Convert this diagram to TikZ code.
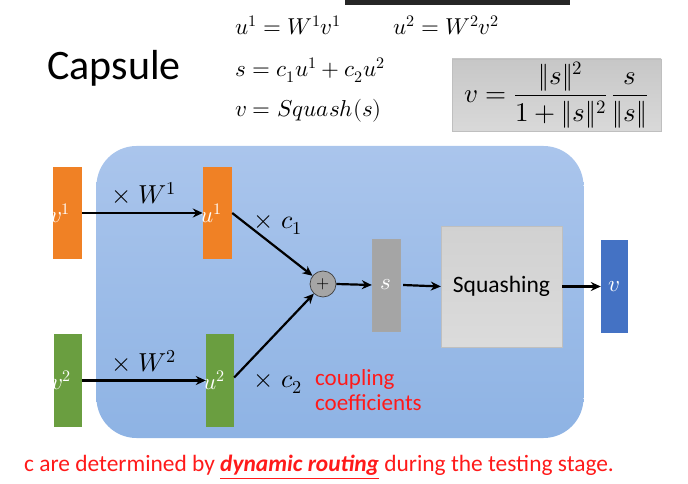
\documentclass[tikz,border=0pt]{standalone}
\usepackage{amsmath}
\usepackage{fontspec}
\usepackage{unicode-math}
\setmainfont{Carlito}
\setmathfont{Latin Modern Math}
\usetikzlibrary{arrows.meta}
\definecolor{orangebox}{HTML}{F08125}
\definecolor{greenbox}{HTML}{6A9E40}
\definecolor{greybox}{HTML}{A5A5A5}
\definecolor{bluebox}{HTML}{4472C4}
\definecolor{capblueTop}{HTML}{AAC5EC}
\definecolor{capblueBot}{HTML}{8EB3E4}
\definecolor{redtext}{HTML}{FF1A1A}
\tikzset{
  x=1pt, y=-1pt,
  vecbox/.style={draw=none, minimum width=#1, inner sep=0pt},
  veclbl/.style={label={[anchor=west, xshift=-3pt, text=white, inner sep=0pt, font=\fontsize{23}{25}\selectfont]west:#1}},
  conn/.style={line width=2.2pt, -{Stealth[length=10pt,width=9pt]}},
  mathlbl/.style={font=\fontsize{26}{28}\selectfont, inner sep=0pt},
  eqlbl/.style={font=\fontsize{23}{26}\selectfont, inner sep=0pt, anchor=base west},
}
\begin{document}
\begin{tikzpicture}
\useasboundingbox (0,0) rectangle (688,484);
% screen artefact bar at top
\fill[black!85] (345,0) rectangle (570,5);
% title and equations
\node[anchor=base west, inner sep=0pt, font=\fontsize{42}{44}\selectfont] (title) at (47,80) {Capsule};
\node[eqlbl] (eq1) at (235,35) {$u^1 = W^1 v^1$};
\node[eqlbl] (eq2) at (393,35) {$u^2 = W^2 v^2$};
\node[eqlbl] (eq3) at (235,77) {$s = c_1 u^1 + c_2 u^2$};
\node[eqlbl] (eq4) at (235,117) {$v = \symit{Squash}(s)$};
\node[draw=black!25, top color=black!22, bottom color=black!15, minimum width=209pt, minimum height=72pt, inner sep=0pt, font=\fontsize{27}{29}\selectfont] (formula) at (556.5,95)
  {$v = \dfrac{\|s\|^2}{1+\|s\|^2}\,\dfrac{s}{\|s\|}$};
% capsule background
\node[rounded corners=40pt, top color=capblueTop, bottom color=capblueBot, draw=none, minimum width=487pt, minimum height=292pt, inner sep=0pt] (capsule) at (340,292) {};
% boxes
\node[vecbox=29pt, minimum height=92pt, fill=orangebox, veclbl={$v^1$}] (v1) at (67.5,213) {};
\node[vecbox=29pt, minimum height=92pt, fill=orangebox, veclbl={$u^1$}] (u1) at (217.5,213) {};
\node[vecbox=28pt, minimum height=93pt, fill=greenbox, veclbl={$v^2$}] (v2) at (68,380.5) {};
\node[vecbox=28pt, minimum height=93pt, fill=greenbox, veclbl={$u^2$}] (u2) at (220,380.5) {};
\node[circle, draw=black!75, line width=0.7pt, fill=greybox, minimum size=26pt, inner sep=0pt, font=\fontsize{17}{18}\selectfont] (plus) at (323,284) {$+$};
\node[vecbox=28pt, minimum height=92pt, fill=greybox, draw=black!35, text=white, font=\fontsize{23}{25}\selectfont] (s) at (386,285) {$s$};
\node[draw=black!25, top color=black!18, bottom color=black!14, minimum width=121pt, minimum height=121pt, inner sep=0pt, font=\fontsize{23.5}{26}\selectfont] (squash) at (501.5,286.5) {Squashing};
\node[vecbox=27pt, minimum height=93pt, fill=bluebox, text=white, font=\fontsize{23}{25}\selectfont] (v) at (614.5,286.5) {$v$};
% connectors
\draw[conn] (v1.east) -- (u1.west);
\draw[conn] (v2.east) -- (u2.west);
\draw[conn] (u1.east) -- (plus);
\draw[conn] (u2.east) ++(0,-3) coordinate (u2out) -- (plus);
\draw[conn] (plus.east) -- (s.west);
\draw[conn] ([xshift=3pt]s.east) -- (squash.west);
\draw[conn] (squash.east) -- (v.west);
% labels
\node[mathlbl] (lw1) at (144,193) {$\times\; W^1$};
\node[mathlbl] (lw2) at (144,361) {$\times\; W^2$};
\node[mathlbl] (lc1) at (278,225) {$\times\; c_1$};
\node[mathlbl] (lc2) at (278,384) {$\times\; c_2$};
\node[anchor=north west, align=left, text=redtext, inner sep=0pt, font=\fontsize{23}{25}\selectfont] (coup) at (315,369) {coupling\\coefficients};
\node[anchor=base west, text=redtext, inner sep=0pt, font=\fontsize{23.4}{26}\selectfont] (note) at (24,471) {c are determined by \underline{\textbf{\textit{dynamic routing}}} during the testing stage.};
\end{tikzpicture}
\end{document}
